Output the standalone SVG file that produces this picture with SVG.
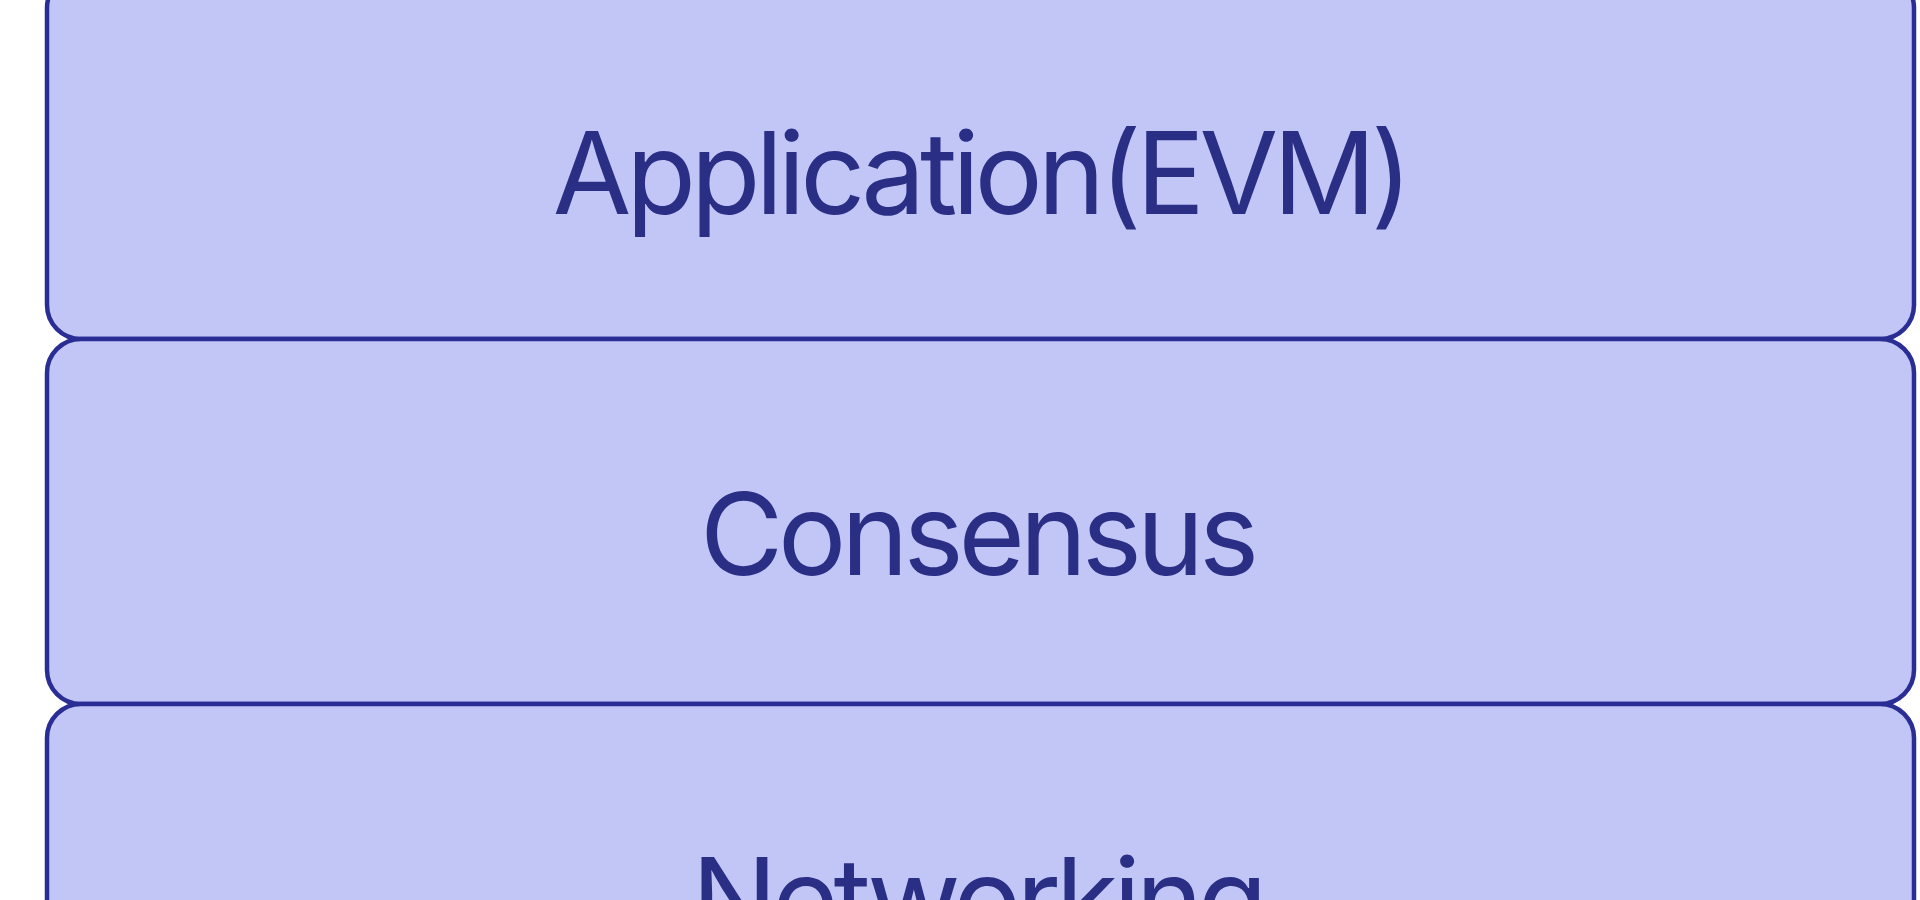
<svg xmlns="http://www.w3.org/2000/svg" width="1920" height="900" viewBox="0 0 1920 900">
<style>
.box{fill:#c2c6f6;stroke:#2a2e94;stroke-width:4.5}
.lbl{font-family:Inter,"Noto Sans","Liberation Sans",sans-serif;font-size:114px;letter-spacing:-5.2px;fill:#2b2e85;text-anchor:middle}
</style>
<rect x="0" y="0" width="1920" height="900" fill="#ffffff"/>
<g id="application">
<rect class="box" x="47" y="-26" width="1867" height="365" rx="34" ry="34"/>
<text class="lbl" x="980" y="214">Application(EVM)</text>
</g>
<g id="consensus">
<rect class="box" x="47" y="339" width="1867" height="365" rx="34" ry="34"/>
<text class="lbl" x="977" y="575">Consensus</text>
</g>
<g id="networking">
<rect class="box" x="47" y="704" width="1867" height="365" rx="34" ry="34"/>
<text class="lbl" x="977" y="940">Networking</text>
</g>
<g id="connectors"></g>
</svg>
